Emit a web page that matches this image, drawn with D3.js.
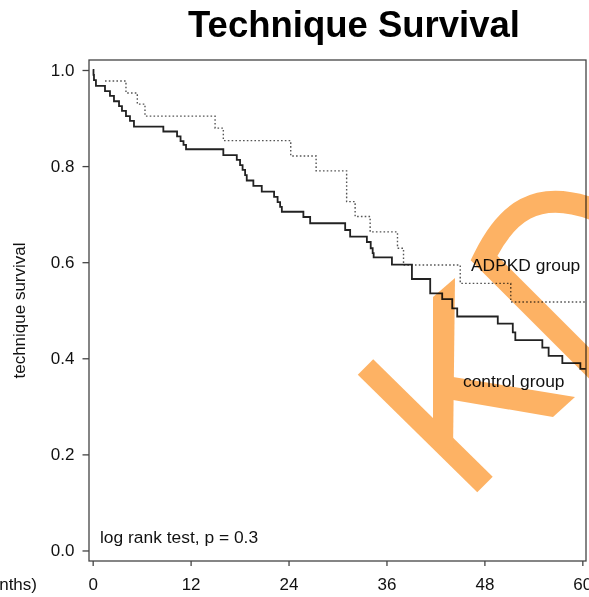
<!DOCTYPE html>
<html>
<head>
<meta charset="utf-8">
<script src="https://cdn.jsdelivr.net/npm/d3@7"></script>
<style>
  html, body { margin: 0; padding: 0; background: #fff; }
  svg { display: block; }
  text { font-family: "Liberation Sans", Arial, Helvetica, sans-serif; fill: #111; }
</style>
</head>
<body>
<svg id="chart" width="589" height="597"></svg>
<script>
// Kaplan–Meier technique survival, months since start of dialysis
const xTicks = [0, 12, 24, 36, 48, 60];
const yTicks = [0, 0.2, 0.4, 0.6, 0.8, 1.0];

// control group: event times (months) and survival after each step
const controlTimes = [0, 0.1, 0.16, 0.4, 1.51, 2.12, 2.61, 3.23, 3.59, 4.08, 4.57, 5.06,
  8.66, 10.34, 10.77, 11.13, 11.44, 16.01, 17.66, 18.06, 18.37, 18.68, 18.88, 19.69,
  20.72, 22.23, 22.66, 22.97, 23.18, 25.82, 26.65, 30.94, 31.55, 33.6, 34.07, 34.31,
  34.43, 36.67, 39.12, 41.36, 42.83, 44.06, 44.67, 49.64, 51.48, 51.79, 55.1, 55.87,
  57.55, 59.76, 61];
const controlSurv = [1.0, 0.99, 0.979, 0.967, 0.956, 0.946, 0.935, 0.925, 0.915, 0.904, 0.894, 0.882,
  0.872, 0.862, 0.852, 0.844, 0.835, 0.823, 0.813, 0.802, 0.792, 0.781, 0.77, 0.759,
  0.747, 0.736, 0.725, 0.715, 0.705, 0.694, 0.681, 0.667, 0.653, 0.642, 0.629, 0.619,
  0.61, 0.595, 0.565, 0.535, 0.523, 0.504, 0.487, 0.472, 0.454, 0.438, 0.422, 0.405,
  0.39, 0.378, 0.378];

// ADPKD group
const adpkdTimes = [1.51, 4.08, 5.47, 6.41, 15.0, 16.01, 24.27, 27.38, 31.12, 32.16,
  34.0, 37.35, 38.09, 45.04, 51.23, 61];
const adpkdSurv = [0.977, 0.952, 0.929, 0.904, 0.879, 0.853, 0.821, 0.79, 0.726, 0.695,
  0.663, 0.629, 0.594, 0.556, 0.517, 0.517];

const svg = d3.select("#chart");
const W = 589, H = 597;
const box = { left: 89, right: 586, top: 60, bottom: 561 };

svg.append("rect").attr("width", W).attr("height", H).attr("fill", "#fff");

const x = d3.scaleLinear().domain([-0.45, 60.45]).range([box.left, box.right]);
const y = d3.scaleLinear().domain([-0.0219, 1.0208]).range([box.bottom, box.top]);

svg.append("defs").append("clipPath").attr("id", "plotClip")
  .append("rect")
  .attr("x", box.left).attr("y", box.top)
  .attr("width", box.right - box.left).attr("height", box.bottom - box.top);

// title
svg.append("text")
  .attr("x", 354).attr("y", 37)
  .attr("text-anchor", "middle")
  .attr("font-size", 36.5).attr("font-weight", "bold")
  .style("fill", "#000")
  .text("Technique Survival");

// survival curves
const line = d3.line()
  .x(d => x(d[0])).y(d => y(d[1]))
  .curve(d3.curveStepAfter);

const curves = svg.append("g").attr("clip-path", "url(#plotClip)");

curves.append("path")
  .datum(d3.zip(adpkdTimes, adpkdSurv))
  .attr("d", line)
  .attr("fill", "none")
  .attr("stroke", "#555")
  .attr("stroke-width", 1.4)
  .attr("stroke-dasharray", "1.6 2.2");

curves.append("path")
  .datum(d3.zip(controlTimes, controlSurv))
  .attr("d", line)
  .attr("fill", "none")
  .attr("stroke", "#222")
  .attr("stroke-width", 1.8);

// frame
svg.append("rect")
  .attr("x", box.left).attr("y", box.top)
  .attr("width", box.right - box.left).attr("height", box.bottom - box.top)
  .attr("fill", "none").attr("stroke", "#444").attr("stroke-width", 1.3);

// axes
const yAxis = svg.append("g")
  .attr("transform", `translate(${box.left},0)`)
  .call(d3.axisLeft(y).tickValues(yTicks).tickFormat(d3.format(".1f")).tickSize(6.5).tickPadding(8));
const xAxis = svg.append("g")
  .attr("transform", `translate(0,${box.bottom})`)
  .call(d3.axisBottom(x).tickValues(xTicks).tickFormat(d3.format("d")).tickSize(5).tickPadding(12));

[yAxis, xAxis].forEach(g => {
  g.select(".domain").remove();
  g.selectAll(".tick line").attr("stroke", "#444").attr("stroke-width", 1.3);
  g.selectAll(".tick text")
    .attr("font-size", 17)
    .attr("font-family", "Liberation Sans, Arial, sans-serif")
    .attr("fill", "#111");
});

// axis titles
svg.append("text")
  .attr("transform", `translate(25,${(box.top + box.bottom) / 2}) rotate(-90)`)
  .attr("text-anchor", "middle")
  .attr("font-size", 17)
  .text("technique survival");

svg.append("text")
  .attr("x", 37).attr("y", 590)
  .attr("text-anchor", "end")
  .attr("font-size", 17)
  .text("time (months)");

// annotations
svg.append("text")
  .attr("x", 100).attr("y", 543)
  .attr("font-size", 17.4)
  .text("log rank test, p = 0.3");

svg.append("text")
  .attr("x", 471).attr("y", 271)
  .attr("font-size", 17.4)
  .text("ADPKD group");

svg.append("text")
  .attr("x", 463).attr("y", 387)
  .attr("font-size", 17.4)
  .text("control group");

// orange monogram stamped over the plot
const mark = svg.append("g")
  .style("mix-blend-mode", "multiply")
  .attr("fill", "#FDB264")
  .attr("stroke", "#FDB264");

mark.append("line")
  .attr("x1", 365.5).attr("y1", 367).attr("x2", 485).attr("y2", 484.5)
  .attr("stroke-width", 22);

mark.append("polygon")
  .attr("points", "433,297 455,278 453,452 433,438")
  .attr("stroke", "none");

mark.append("polygon")
  .attr("points", "453,377 575,397 553,417 453,400")
  .attr("stroke", "none");

mark.append("path")
  .attr("d", "M640,414 L484,258 C505,215 535,185 600,212")
  .attr("fill", "none")
  .attr("stroke-width", 22)
  .attr("stroke-linejoin", "miter");
</script>
</body>
</html>
